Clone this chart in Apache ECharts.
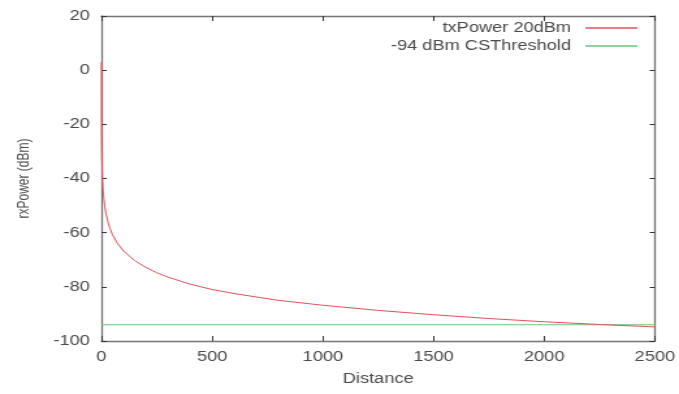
<!DOCTYPE html>
<html>
<head>
<meta charset="utf-8">
<script src="https://cdn.jsdelivr.net/npm/echarts@6/dist/echarts.min.js"></script>
<style>
html, body { margin: 0; padding: 0; background: #fff; overflow: hidden; }
#chart { width: 522px; height: 394px; transform: scaleX(1.3008); transform-origin: 0 0; }
</style>
</head>
<body>
<div id="chart"></div>
<script>
// Data
const distance = [0, 0.5, 1, 2, 3, 5, 7, 10, 15, 20, 30, 40, 50, 70, 100, 150, 200, 250, 300, 400, 500, 600, 800, 1000, 1250, 1500, 1750, 2000, 2250, 2500];
const rxPower = [3, -20.8, -26.8, -32.8, -36.3, -40.8, -43.7, -46.8, -50.3, -52.8, -56.3, -58.8, -60.8, -63.7, -66.8, -70.3, -72.8, -74.8, -76.4, -79.0, -81.0, -82.5, -85.0, -86.8, -88.7, -90.3, -91.7, -92.9, -93.9, -94.8];
const thresholdX = [0, 2500];
const thresholdY = [-94, -94];
const seriesNames = ['txPower 20dBm', '-94 dBm CSThreshold'];
const xTicks = { min: 0, max: 2500, interval: 500 };
const yTicks = { min: -100, max: 20, interval: 20 };

const curve = distance.map((d, i) => [d, rxPower[i]]);
const threshold = thresholdX.map((d, i) => [d, thresholdY[i]]);

const chart = echarts.init(document.getElementById('chart'), null, { renderer: 'canvas' });
const font = 'Liberation Sans, Arial, Helvetica, sans-serif';
const textColor = '#4a4a4a';
const lineColor = '#757575';
const plain = v => String(v);

const baseX = {
  type: 'value', min: xTicks.min, max: xTicks.max, interval: xTicks.interval,
  splitLine: { show: false },
  axisLine: { show: true, onZero: false, lineStyle: { color: lineColor, width: 1.3 } },
  axisTick: { show: true, inside: true, length: 5, lineStyle: { color: '#333', width: 1 } }
};
const baseY = {
  type: 'value', min: yTicks.min, max: yTicks.max, interval: yTicks.interval,
  splitLine: { show: false },
  axisLine: { show: true, onZero: false, lineStyle: { color: lineColor, width: 1.3 } },
  axisTick: { show: true, inside: true, length: 4, lineStyle: { color: '#333', width: 1 } }
};

const legendCommon = {
  orient: 'vertical', align: 'right', icon: 'rect',
  itemWidth: 40, itemHeight: 1.3,
  textStyle: { fontFamily: font, fontSize: 14, color: textColor, padding: [0, 6, 0, 0] },
  selectedMode: false
};

chart.setOption({
  animation: false,
  backgroundColor: '#fff',
  grid: { left: 78, right: 16, top: 16, bottom: 53, containLabel: false },
  legend: [
    Object.assign({}, legendCommon, { data: [seriesNames[0]], right: 27, top: 16 }),
    Object.assign({}, legendCommon, { data: [seriesNames[1]], right: 27, top: 34 })
  ],
  xAxis: [
    Object.assign({}, baseX, {
      position: 'bottom',
      name: 'Distance', nameLocation: 'middle', nameGap: 31,
      nameTextStyle: { fontFamily: font, fontSize: 14, color: textColor },
      axisLabel: { fontFamily: font, fontSize: 14, color: textColor, margin: 9, formatter: plain }
    }),
    Object.assign({}, baseX, { position: 'top', axisLabel: { show: false } })
  ],
  yAxis: [
    Object.assign({}, baseY, {
      position: 'left',
      name: 'rxPower (dBm)', nameLocation: 'middle', nameGap: 53,
      nameTextStyle: { fontFamily: font, fontSize: 12, color: textColor },
      axisLabel: { fontFamily: font, fontSize: 14, color: textColor, margin: 9, formatter: plain }
    }),
    Object.assign({}, baseY, { position: 'right', axisLabel: { show: false } })
  ],
  series: [
    {
      name: seriesNames[0], type: 'line', data: curve, xAxisIndex: 0, yAxisIndex: 0,
      showSymbol: false, symbol: 'none', smooth: false,
      lineStyle: { color: '#e2525a', width: 1 }, itemStyle: { color: '#e2525a' }, z: 3
    },
    {
      name: seriesNames[1], type: 'line', data: threshold, xAxisIndex: 0, yAxisIndex: 0,
      showSymbol: false, symbol: 'none',
      lineStyle: { color: '#6cc67a', width: 1.1 }, itemStyle: { color: '#6cc67a' }, z: 2
    }
  ]
});
</script>
</body>
</html>
